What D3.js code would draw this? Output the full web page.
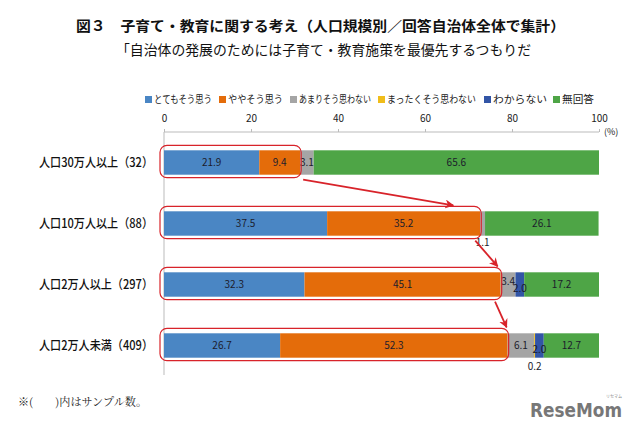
<!DOCTYPE html>
<html><head><meta charset="utf-8">
<script src="https://cdn.jsdelivr.net/npm/d3@7"></script>
<style>body{margin:0;background:#fff}svg{display:block}</style>
</head><body><svg id="c" width="640" height="432"></svg>
<script>
const categories = ["人口30万人以上（32）","人口10万人以上（88）","人口2万人以上（297）","人口2万人未満（409）"];
const seriesNames = ["とてもそう思う","ややそう思う","あまりそう思わない","まったくそう思わない","わからない","無回答"];
const seriesColors = ["#4a86c4","#e46c0a","#a5a5a5","#f0bd1a","#3255a6","#4ea546"];
const veryMuch = [21.9,37.5,32.3,26.7];
const somewhat = [9.4,35.2,45.1,52.3];
const notMuch  = [3.1,1.1,3.4,6.1];
const notAtAll = [0,0,0,0.2];
const dontKnow = [0,0,2.0,2.0];
const noAnswer = [65.6,26.1,17.2,12.7];
const tickValues = [0,20,40,60,80,100];

const series = [veryMuch,somewhat,notMuch,notAtAll,dontKnow,noAnswer];
const font = "'Noto Sans CJK JP','Noto Sans',sans-serif";
const svg = d3.select("#c");

svg.append("text").attr("x",76).attr("y",31).attr("font-family",font).attr("font-weight","bold")
  .attr("font-size",14).attr("textLength",489).attr("lengthAdjust","spacingAndGlyphs").attr("fill","#111")
  .text("図３　子育て・教育に関する考え（人口規模別／回答自治体全体で集計）");
svg.append("text").attr("x",116).attr("y",55).attr("font-family",font)
  .attr("font-size",14).attr("textLength",415).attr("lengthAdjust","spacingAndGlyphs").attr("fill","#111")
  .text("「自治体の発展のためには子育て・教育施策を最優先するつもりだ");

const x = d3.scaleLinear().domain([0,100]).range([164,599]);
const y = d3.scaleBand().domain(categories).range([132,376]).paddingInner(0.6).paddingOuter(0.3);

// legend
const legendX = [145,219,290,378,484,553];
const legendEnd = [213,284,372,477,548,595];
const lg = svg.append("g");
seriesNames.forEach((n,i)=>{
  lg.append("rect").attr("x",legendX[i]).attr("y",96).attr("width",7).attr("height",7).attr("fill",seriesColors[i]);
  lg.append("text").attr("x",legendX[i]+9).attr("y",102.5).attr("font-family",font).attr("font-size",10.5)
    .attr("textLength",legendEnd[i]-legendX[i]-10).attr("lengthAdjust","spacingAndGlyphs").attr("fill","#222").text(n);
});

// top axis
const ax = svg.append("g").attr("transform","translate(0,132)")
  .call(d3.axisTop(x).tickValues(tickValues).tickSize(3).tickPadding(7).tickFormat(d3.format("d")));
ax.select(".domain").attr("stroke","#bbb").attr("d","M164,0H599");
ax.selectAll(".tick line").attr("stroke","#bbb");
ax.selectAll(".tick text").attr("font-family",font).attr("font-size",10).attr("fill","#222");
svg.append("text").attr("x",604).attr("y",135).attr("font-family",font).attr("font-size",9).attr("fill","#222").text("(%)");
svg.append("line").attr("x1",x(0)).attr("x2",x(0)).attr("y1",132).attr("y2",375).attr("stroke","#bbb");

// category labels
svg.append("g").selectAll("text").data(categories).join("text")
  .attr("x",153).attr("y",d=>y(d)+y.bandwidth()/2+4.5).attr("text-anchor","end")
  .attr("font-family",font).attr("font-size",12.5).attr("font-weight",500).attr("fill","#111")
  .attr("textLength",114).attr("lengthAdjust","spacingAndGlyphs").text(d=>d);

// stacked bars
const rows = categories.map((c,i)=>{const o={cat:c}; seriesNames.forEach((s,j)=>o[s]=series[j][i]); return o;});
const stacked = d3.stack().keys(seriesNames)(rows);
const bh = y.bandwidth();
stacked.forEach((layer,j)=>{
  svg.append("g").selectAll("rect").data(layer).join("rect")
    .attr("x",d=>x(d[0])).attr("width",d=>x(d[1])-x(d[0]))
    .attr("y",d=>y(d.data.cat)).attr("height",bh).attr("fill",seriesColors[j]);
});
// value labels
stacked.forEach((layer,j)=>{
  layer.forEach((d,i)=>{
    const v = d[1]-d[0];
    if (v <= 0.001) return;
    const cx = (x(d[0])+x(d[1]))/2;
    let cy = y(d.data.cat)+bh/2+3.5;
    if (v < 1.5) cy = y(d.data.cat)+bh+(j===3?12:10);
    else if (j===4) cy += 4;
    else if (j===2 && v<5 && dontKnow[i]>0) cy -= 3;
    svg.append("text").attr("x",cx).attr("y",cy).attr("text-anchor","middle")
      .attr("font-family",font).attr("font-size",10).attr("fill","#1c1c2c")
      .text(d3.format(".1f")(series[j][i]));
  });
});

// highlight rounded rects and arrows
const ends = categories.map((c,i)=>veryMuch[i]+somewhat[i]);
const red = "#d8232a";
svg.append("defs").append("marker").attr("id","ah").attr("viewBox","0 0 10 10").attr("refX",9).attr("refY",5)
  .attr("markerWidth",5).attr("markerHeight",5).attr("orient","auto")
  .append("path").attr("d","M0,0L10,5L0,10L3,5Z").attr("fill",red);
categories.forEach((c,i)=>{
  svg.append("rect").attr("x",160).attr("y",y(c)-5).attr("width",x(ends[i])+1-160).attr("height",bh+8)
    .attr("rx",7).attr("fill","none").attr("stroke",red).attr("stroke-width",1.2);
});
for (let i=0;i<categories.length-1;i++){
  const a = x(ends[i]), b = x(ends[i+1]);
  const sx = a-6+0.05*(b-a), sy = y(categories[i])+bh+5;
  const ex = a+0.85*(b-a), ey = y(categories[i+1])-6;
  svg.append("line").attr("x1",sx).attr("y1",sy).attr("x2",ex).attr("y2",ey)
    .attr("stroke",red).attr("stroke-width",1.8).attr("marker-end","url(#ah)");
}

// footnote and logo
svg.append("text").attr("x",18).attr("y",406).attr("font-family","'Noto Serif CJK JP','DejaVu Serif',serif")
  .attr("font-size",11).attr("textLength",129).attr("lengthAdjust","spacingAndGlyphs")
  .attr("fill","#222").text("※(　　)内はサンプル数。");
svg.append("text").attr("x",530).attr("y",417).attr("font-family","'DejaVu Sans',sans-serif").attr("font-weight","bold")
  .attr("font-size",20).attr("fill","#777").attr("textLength",92).attr("lengthAdjust","spacingAndGlyphs").text("ReseMom");
svg.append("text").attr("x",606).attr("y",398).attr("font-family",font).attr("font-size",4).attr("fill","#888").text("リセマム");
</script></body></html>
